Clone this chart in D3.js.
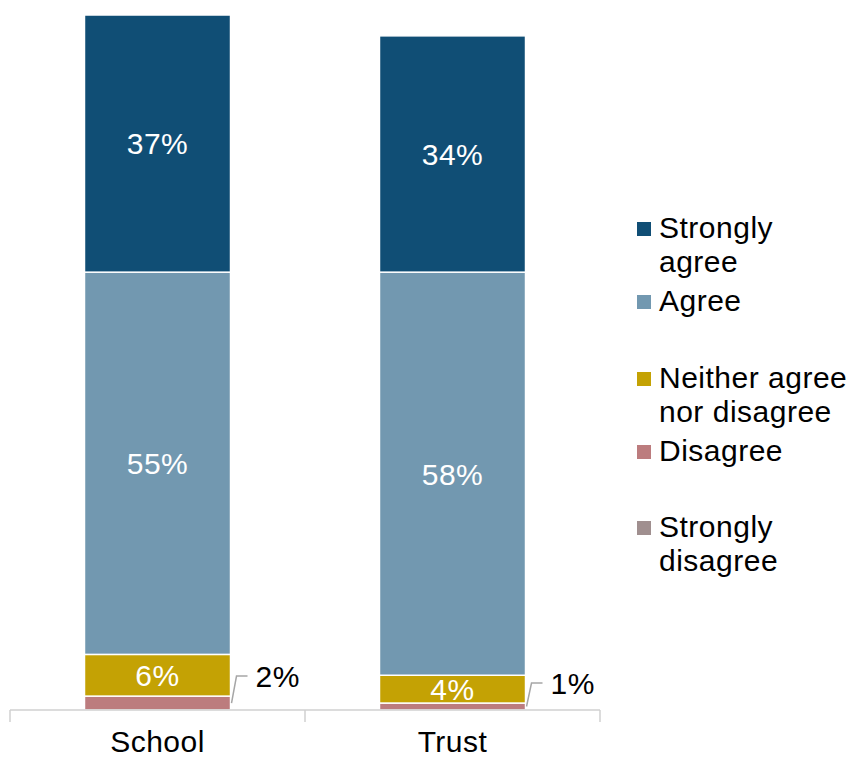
<!DOCTYPE html>
<html>
<head>
<meta charset="utf-8">
<script src="https://cdn.jsdelivr.net/npm/d3@7"></script>
<style>
  html, body { margin: 0; padding: 0; background: #fff; }
  svg { display: block; font-family: "Liberation Sans", Arial, sans-serif; }
  text { letter-spacing: 0.5px; }
</style>
</head>
<body>
<svg id="chart" width="853" height="758"></svg>
<script>
// Categories and response levels (bottom to top of each stack)
const categories = ["School", "Trust"];
const levels = ["Strongly disagree", "Disagree", "Neither agree nor disagree", "Agree", "Strongly agree"];

// Percentages per level, one value per category
const stronglyDisagree = [0, 0];
const disagree = [2, 1];
const neither = [6, 4];
const agree = [55, 58];
const stronglyAgree = [37, 34];

const seriesValues = [stronglyDisagree, disagree, neither, agree, stronglyAgree];
const colors = ["#a08f8f", "#bc7c7e", "#c4a204", "#7298b0", "#104e75"];

// Legend order (top to bottom) with wrapped lines
const legendItems = [
  { key: "Strongly agree", lines: ["Strongly", "agree"] },
  { key: "Agree", lines: ["Agree"] },
  { key: "Neither agree nor disagree", lines: ["Neither agree", "nor disagree"] },
  { key: "Disagree", lines: ["Disagree"] },
  { key: "Strongly disagree", lines: ["Strongly", "disagree"] }
];

const FONT = 30;
const svg = d3.select("#chart");

const rows = categories.map((c, i) => {
  const r = { category: c };
  levels.forEach((l, j) => r[l] = seriesValues[j][i]);
  return r;
});

const stacked = d3.stack().keys(levels)(rows);

const x = d3.scaleBand().domain(categories).range([10, 600])
  .paddingInner(0.505).paddingOuter(0.2525);
const y = d3.scaleLinear().domain([0, 100]).range([710, 15]);
const color = d3.scaleOrdinal().domain(levels).range(colors);

// Stacked segments
const layer = svg.append("g").selectAll("g").data(stacked).join("g")
  .attr("fill", d => color(d.key));

layer.selectAll("rect").data(d => d.map(p => ({ p, key: d.key }))).join("rect")
  .attr("x", d => x(d.p.data.category))
  .attr("width", x.bandwidth())
  .attr("y", d => y(d.p[1]))
  .attr("height", d => Math.max(0, y(d.p[0]) - y(d.p[1])))
  .attr("stroke", "#fff")
  .attr("stroke-width", d => (d.p[1] - d.p[0]) > 0 ? 1.5 : 0);

// Value labels inside segments large enough to hold them
const inside = [];
stacked.forEach(s => s.forEach(p => {
  const v = p[1] - p[0];
  if (v >= 3) inside.push({ v, cat: p.data.category, mid: (p[0] + p[1]) / 2 });
}));
svg.append("g").selectAll("text").data(inside).join("text")
  .attr("x", d => x(d.cat) + x.bandwidth() / 2)
  .attr("y", d => y(d.mid))
  .attr("dy", "0.36em")
  .attr("text-anchor", "middle")
  .attr("fill", "#fff")
  .attr("font-size", FONT)
  .text(d => d.v + "%");

// Callout labels for thin "Disagree" segments
const dis = stacked.find(s => s.key === "Disagree");
const callouts = svg.append("g");
dis.forEach(p => {
  const v = p[1] - p[0];
  if (v <= 0 || v >= 3) return;
  const x0 = x(p.data.category) + x.bandwidth() + 1;
  const ym = y((p[0] + p[1]) / 2);
  const yl = y(p[1]) - 20;
  callouts.append("path")
    .attr("d", `M${x0},${ym} L${x0 + 5},${yl} L${x0 + 16},${yl}`)
    .attr("fill", "none").attr("stroke", "#a6a6a6").attr("stroke-width", 1.5);
  callouts.append("text")
    .attr("x", x0 + 24).attr("y", yl).attr("dy", "0.36em")
    .attr("font-size", FONT).attr("fill", "#000")
    .text(v + "%");
});

// Category axis with boundary ticks
const axisG = svg.append("g");
const step = x.step();
const bounds = [x.range()[0], x.range()[0] + step, x.range()[1]];
axisG.append("line")
  .attr("x1", x.range()[0]).attr("x2", x.range()[1])
  .attr("y1", y(0)).attr("y2", y(0))
  .attr("stroke", "#d0d0d0").attr("stroke-width", 1.5);
axisG.selectAll(".tk").data(bounds).join("line")
  .attr("x1", d => d).attr("x2", d => d)
  .attr("y1", y(0)).attr("y2", y(0) + 12)
  .attr("stroke", "#d0d0d0").attr("stroke-width", 1.5);
axisG.selectAll(".cat").data(categories).join("text")
  .attr("x", d => x(d) + x.bandwidth() / 2)
  .attr("y", 752)
  .attr("text-anchor", "middle").attr("font-size", FONT).attr("fill", "#000")
  .text(d => d);

// Legend
const legendCenters = [229, 302, 379, 452, 528];
const leg = svg.append("g");
legendItems.forEach((it, i) => {
  const cy = legendCenters[i];
  leg.append("rect")
    .attr("x", 637).attr("y", cy - 7).attr("width", 14).attr("height", 14)
    .attr("fill", color(it.key));
  it.lines.forEach((ln, k) => {
    leg.append("text")
      .attr("x", 659).attr("y", cy + 9 + k * 34)
      .attr("font-size", FONT).attr("fill", "#000")
      .text(ln);
  });
});
</script>
</body>
</html>
